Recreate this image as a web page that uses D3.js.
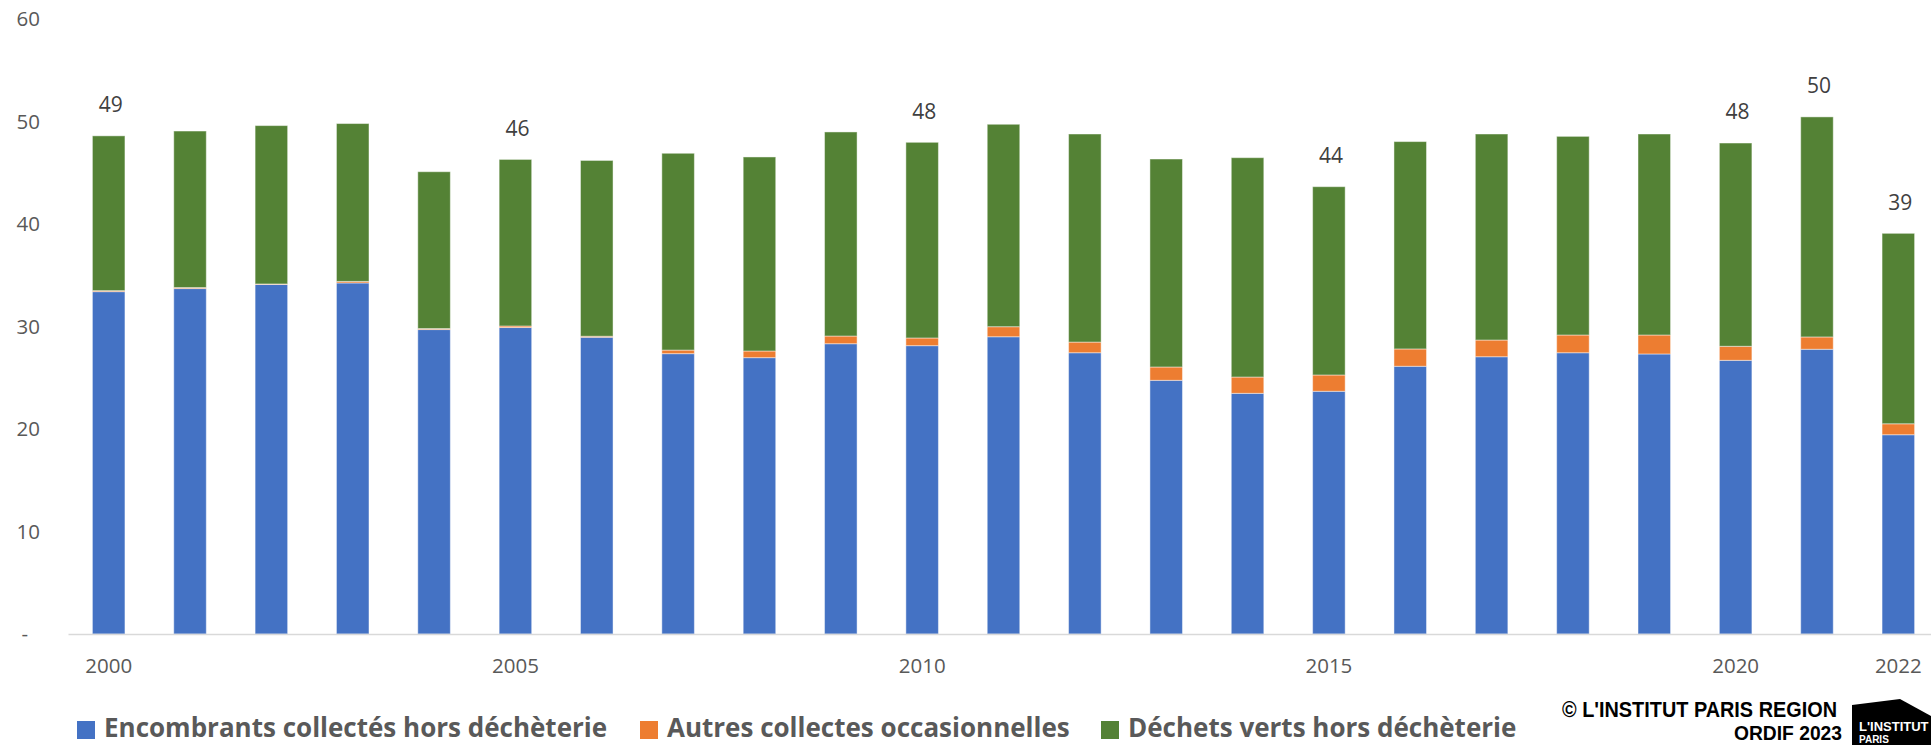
<!DOCTYPE html>
<html>
<head>
<meta charset="utf-8">
<script src="https://cdn.jsdelivr.net/npm/d3@7"></script>
<style>
  body { margin: 0; background: #fff; }
  svg { display: block; }
</style>
</head>
<body>
<div id="chart"></div>
<script>
// years on the x axis
const years = [2000, 2001, 2002, 2003, 2004, 2005, 2006, 2007, 2008, 2009, 2010, 2011,
  2012, 2013, 2014, 2015, 2016, 2017, 2018, 2019, 2020, 2021, 2022]

// kg / hab / an
const encombrants = [33.4, 33.7, 34.1, 34.25, 29.7, 29.9, 28.95, 27.35, 26.96, 28.32, 28.13, 29.0,
  27.44, 24.75, 23.48, 23.68, 26.12, 27.05, 27.44, 27.32, 26.7, 27.78, 19.44]
const autres = [0.1, 0.1, 0.05, 0.15, 0.1, 0.15, 0.1, 0.35, 0.65, 0.75, 0.75, 0.98,
  1.04, 1.3, 1.59, 1.59, 1.69, 1.63, 1.73, 1.85, 1.37, 1.2, 1.07]
const verts = [15.1, 15.27, 15.45, 15.4, 15.3, 16.25, 17.15, 19.2, 18.93, 19.91, 19.09, 19.75,
  20.3, 20.29, 21.4, 18.37, 20.23, 20.1, 19.38, 19.61, 19.83, 21.47, 18.58]

const seriesNames = ["Encombrants collectés hors déchèterie", "Autres collectes occasionnelles", "Déchets verts hors déchèterie"]
const seriesColors = ["#4472C4", "#ED7D31", "#548235"]

const yTicks = [0, 10, 20, 30, 40, 50, 60]
const xTickYears = [2000, 2005, 2010, 2015, 2020, 2022]
const labelledYears = [2000, 2005, 2010, 2015, 2020, 2021, 2022]

const width = 1931
const height = 745
const margin = { top: 19, right: -8, bottom: 111, left: 68 }

const font = "'Open Sans', sans-serif"

const rows = years.map((year, i) => ({
  year,
  s0: encombrants[i],
  s1: autres[i],
  s2: verts[i],
}))

const stack = d3.stack().keys(["s0", "s1", "s2"])(rows)

const x = d3.scaleBand()
  .domain(years)
  .range([margin.left, width - margin.right])
  .paddingInner(0.6)
  .paddingOuter(0.3)

const y = d3.scaleLinear()
  .domain([0, 60])
  .range([height - margin.bottom, margin.top])

const svg = d3.select("#chart").append("svg")
  .attr("width", width)
  .attr("height", height)
  .attr("font-family", font)

// y axis (no line, labels only)
svg.append("g")
  .attr("transform", `translate(${margin.left},0)`)
  .call(d3.axisLeft(y).tickValues(yTicks).tickSize(0).tickPadding(28)
    .tickFormat(d => d === 0 ? "-" : d))
  .call(g => g.select(".domain").remove())
  .call(g => g.selectAll("text")
    .attr("font-size", 20.5)
    .attr("font-family", font)
    .attr("fill", "#595959")
    .attr("x", d => d === 0 ? -40 : -28))

// bars
svg.append("g")
  .selectAll("g")
  .data(stack)
  .join("g")
    .attr("fill", (d, i) => seriesColors[i])
  .selectAll("rect")
  .data(d => d)
  .join("rect")
    .attr("x", d => x(d.data.year))
    .attr("width", x.bandwidth())
    .attr("y", d => y(d[1]))
    .attr("height", d => y(d[0]) - y(d[1]))
    .attr("stroke", "#fff")
    .attr("stroke-opacity", 0.45)
    .attr("stroke-width", 1)

// x axis
svg.append("g")
  .attr("transform", `translate(0,${y(0)})`)
  .call(d3.axisBottom(x).tickValues(xTickYears).tickSize(0).tickPadding(24))
  .call(g => g.select(".domain")
    .attr("stroke", "#d9d9d9")
    .attr("stroke-width", 1.5))
  .call(g => g.selectAll("text")
    .attr("font-size", 20.5)
    .attr("font-family", font)
    .attr("fill", "#595959"))

// total labels
const totals = stack[stack.length - 1]
svg.append("g")
  .selectAll("text")
  .data(totals.filter(d => labelledYears.includes(d.data.year)))
  .join("text")
    .attr("x", d => x(d.data.year) + x.bandwidth() / 2 + 2)
    .attr("y", d => y(d[1]) - 31)
    .attr("dy", "0.35em")
    .attr("text-anchor", "middle")
    .attr("font-size", 21)
    .attr("fill", "#404040")
    .text(d => Math.round(d[1]))

// legend
const legendX = [77, 640, 1101]
const legend = svg.append("g")
  .selectAll("g")
  .data(seriesNames)
  .join("g")
    .attr("transform", (d, i) => `translate(${legendX[i]},721)`)

legend.append("rect")
  .attr("width", 18)
  .attr("height", 18)
  .attr("fill", (d, i) => seriesColors[i])

legend.append("text")
  .attr("x", 27)
  .attr("y", 16)
  .attr("font-size", 26)
  .attr("font-weight", 700)
  .attr("fill", "#595959")
  .text(d => d)

// credits
const credit = svg.append("g")
  .attr("font-family", "'Liberation Sans', Arial, sans-serif")
  .attr("font-weight", 700)
  .attr("fill", "#000")
  .attr("text-anchor", "end")

credit.append("text")
  .attr("x", 1837)
  .attr("y", 717)
  .attr("font-size", 22)
  .attr("textLength", 275)
  .attr("lengthAdjust", "spacingAndGlyphs")
  .text("© L'INSTITUT PARIS REGION")

credit.append("text")
  .attr("x", 1842)
  .attr("y", 740)
  .attr("font-size", 21)
  .attr("textLength", 108)
  .attr("lengthAdjust", "spacingAndGlyphs")
  .text("ORDIF 2023")

// logo block
svg.append("path")
  .attr("d", "M1852,705 L1900,699 L1931,716 L1931,745 L1852,745 Z")
  .attr("fill", "#000")

svg.append("text")
  .attr("x", 1859)
  .attr("y", 731)
  .attr("font-family", "'Liberation Sans', Arial, sans-serif")
  .attr("font-weight", 700)
  .attr("font-size", 13)
  .attr("fill", "#fff")
  .text("L'INSTITUT")

svg.append("text")
  .attr("x", 1859)
  .attr("y", 743)
  .attr("font-family", "'Liberation Sans', Arial, sans-serif")
  .attr("font-weight", 700)
  .attr("font-size", 10)
  .attr("fill", "#fff")
  .text("PARIS")
</script>
</body>
</html>
